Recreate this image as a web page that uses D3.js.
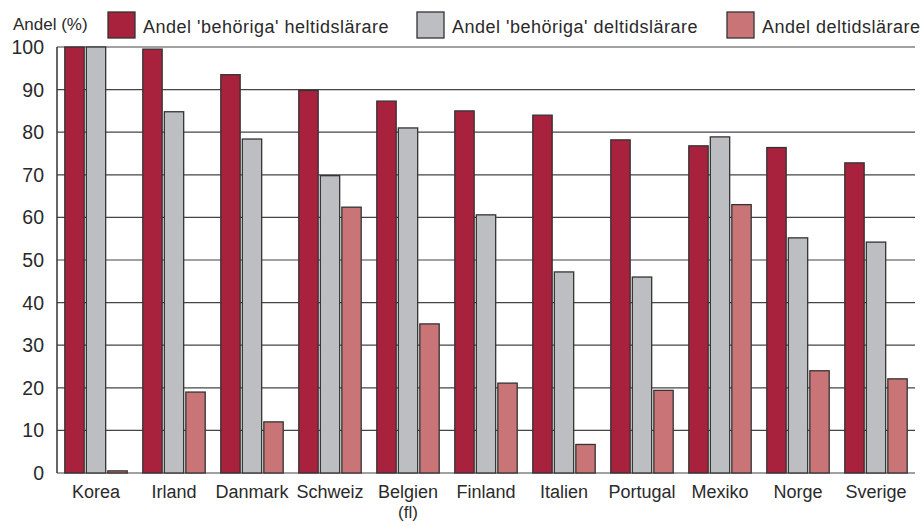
<!DOCTYPE html>
<html>
<head>
<meta charset="utf-8">
<script src="https://cdn.jsdelivr.net/npm/d3@7"></script>
<style>
  body { margin: 0; background: #fff; }
  text { font-family: "Liberation Sans", Arial, sans-serif; fill: #2a2a2a; }
</style>
</head>
<body>
<div id="chart"></div>
<script>
const countries = ["Korea", "Irland", "Danmark", "Schweiz", "Belgien\n(fl)", "Finland", "Italien", "Portugal", "Mexiko", "Norge", "Sverige"];
const heltid = [100, 99.5, 93.5, 89.8, 87.3, 85, 84, 78.2, 76.8, 76.4, 72.8];
const deltidBehoriga = [100, 84.8, 78.4, 69.8, 81, 60.6, 47.2, 46, 78.9, 55.2, 54.2];
const deltid = [0.5, 19, 12, 62.4, 35, 21.1, 6.7, 19.4, 63, 24, 22.1];
const seriesNames = ["Andel 'behöriga' heltidslärare", "Andel 'behöriga' deltidslärare", "Andel deltidslärare"];
const colors = ["#a8223d", "#bdbec2", "#c97577"];
const yTicks = [0, 10, 20, 30, 40, 50, 60, 70, 80, 90, 100];

const W = 921, H = 526;
const margin = { top: 47, right: 6, bottom: 53, left: 57 };

const svg = d3.select("#chart").append("svg")
    .attr("width", W).attr("height", H);

const x = d3.scaleBand()
    .domain(countries)
    .range([margin.left, W - margin.right])
    .paddingInner(0.2).paddingOuter(0.1);

const y = d3.scaleLinear()
    .domain([0, 100])
    .range([H - margin.bottom, margin.top]);

// gridlines
svg.append("g")
    .selectAll("line")
    .data(yTicks)
    .enter().append("line")
    .attr("x1", margin.left)
    .attr("x2", W - margin.right)
    .attr("y1", d => y(d))
    .attr("y2", d => y(d))
    .style("stroke", "#444")
    .style("stroke-width", 1.2);

// y tick labels
svg.append("g")
    .selectAll("text")
    .data(yTicks)
    .enter().append("text")
    .attr("x", 44)
    .attr("y", d => y(d) + 7)
    .style("text-anchor", "end")
    .style("font-size", "19.5px")
    .text(d => d);

// bars
const x1 = d3.scaleBand()
    .domain([0, 1, 2])
    .range([0, x.bandwidth()])
    .paddingInner(0.1);

const rows = countries.map((c, i) => ({ c: c, vals: [heltid[i], deltidBehoriga[i], deltid[i]] }));

const groups = svg.append("g")
    .selectAll("g")
    .data(rows)
    .enter().append("g")
    .attr("transform", d => "translate(" + x(d.c) + ",0)");

groups.selectAll("rect")
    .data(d => d.vals)
    .enter().append("rect")
    .attr("x", (d, i) => x1(i))
    .attr("width", x1.bandwidth())
    .attr("y", d => y(d))
    .attr("height", d => y(0) - y(d))
    .style("fill", (d, i) => colors[i])
    .style("stroke", "#333")
    .style("stroke-width", 1.3);

// left axis line
svg.append("line")
    .attr("x1", margin.left).attr("x2", margin.left)
    .attr("y1", y(100)).attr("y2", y(0))
    .style("stroke", "#333").style("stroke-width", 1.5);

// category labels
const catLabels = svg.append("g")
    .selectAll("text")
    .data(countries)
    .enter().append("text")
    .attr("x", d => x(d) + x.bandwidth() / 2)
    .attr("y", 498)
    .style("text-anchor", "middle")
    .style("font-size", "18px");

catLabels.each(function(d) {
    const parts = d.split("\n");
    parts.forEach((p, k) => {
        d3.select(this).append("tspan")
            .attr("x", x(d) + x.bandwidth() / 2)
            .attr("dy", k === 0 ? 0 : 20)
            .style("font-size", k === 0 ? null : "17px")
            .text(p);
    });
});

// y title
svg.append("text")
    .attr("x", 13).attr("y", 30)
    .style("font-size", "17px")
    .text("Andel (%)");

// legend
const legendX = [108, 417, 727];
const legend = svg.append("g")
    .selectAll("g")
    .data(seriesNames)
    .enter().append("g")
    .attr("transform", (d, i) => "translate(" + legendX[i] + ",12)");

legend.append("rect")
    .attr("width", 27).attr("height", 26)
    .style("fill", (d, i) => colors[i])
    .style("stroke", "#333")
    .style("stroke-width", 1.3);

legend.append("text")
    .attr("x", 35).attr("y", 21)
    .style("font-size", "18px")
    .style("letter-spacing", "0.5px")
    .text(d => d);
</script>
</body>
</html>
